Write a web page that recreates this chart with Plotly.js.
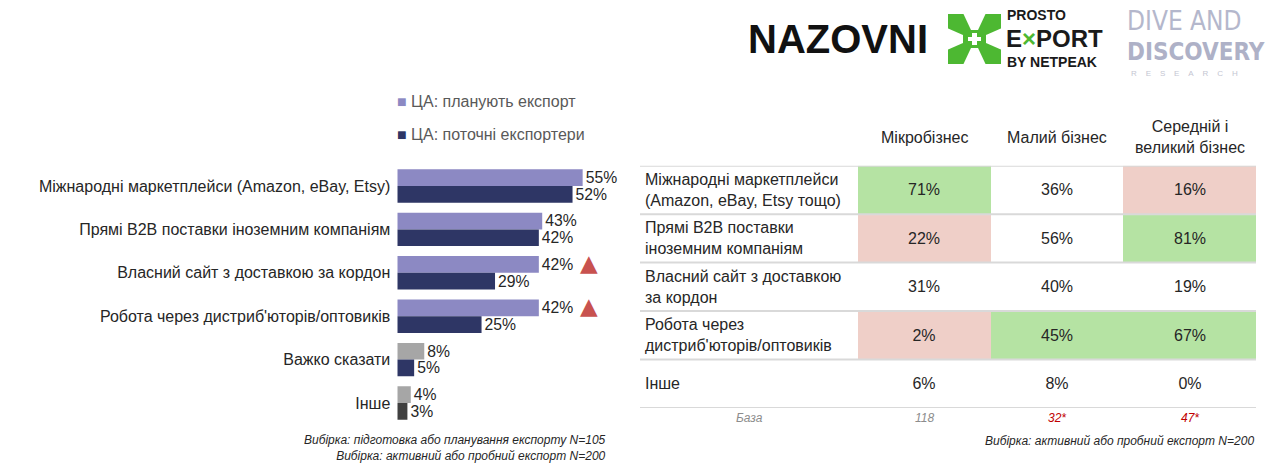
<!DOCTYPE html>
<html>
<head>
<meta charset="utf-8">
<script src="https://cdn.plot.ly/plotly-3.0.1.min.js"></script>
<style>html,body{margin:0;padding:0;background:#fff;}#chart{width:1280px;height:469px;}</style>
</head>
<body>
<div id="chart"></div>
<script>
// ---------- DATA ----------
var barCategories = [
  "Міжнародні маркетплейси (Amazon, eBay, Etsy)",
  "Прямі B2B поставки іноземним компаніям",
  "Власний сайт з доставкою за кордон",
  "Робота через дистриб'юторів/оптовиків",
  "Важко сказати",
  "Інше"
];
var planValues = [55, 43, 42, 42, 8, 4];
var currentValues = [52, 42, 29, 25, 5, 3];
var planUpFlags = [false, false, true, true, false, false];
var seriesNames = ["ЦА: планують експорт", "ЦА: поточні експортери"];
var leftNotes = ["Вибірка: підготовка або планування експорту N=105", "Вибірка: активний або пробний експорт N=200"];

var tableColumns = ["Мікробізнес", "Малий бізнес", "Середній і<br>великий бізнес"];
var tableRows = [
  "Міжнародні маркетплейси<br>(Amazon, eBay, Etsy тощо)",
  "Прямі B2B поставки<br>іноземним компаніям",
  "Власний сайт з доставкою<br>за кордон",
  "Робота через<br>дистриб'юторів/оптовиків",
  "Інше"
];
var microValues = [71, 22, 31, 2, 6];
var smallValues = [36, 56, 40, 45, 8];
var midLargeValues = [16, 81, 19, 67, 0];
// "H" = significantly higher, "L" = significantly lower, "" = no difference
var microFlags = ["H", "L", "", "L", ""];
var smallFlags = ["", "", "", "H", ""];
var midLargeFlags = ["L", "H", "", "H", ""];
var baseLabel = "База";
var baseValues = ["118", "32*", "47*"];
var baseSmall = [false, true, true];
var rightNote = "Вибірка: активний або пробний експорт N=200";

// ---------- STYLE ----------
var W = 1280, H = 469;
function px(x) { return x / W; }
function py(y) { return (H - y) / H; }
var FONT = "Liberation Sans, Arial, sans-serif";
var TXT = "#262626";
var cPlan = "#8C89C3", cCur = "#2E3665", cGrey = "#A6A6A6", cDark = "#404040";
var cGreen = "#B5E3A3", cPink = "#EFCFC8";

var planColors = planValues.map(function (v, i) { return i >= 4 ? cGrey : cPlan; });
var currentColors = currentValues.map(function (v, i) { return i === 5 ? cDark : cCur; });

var traces = [
  {
    type: "bar", orientation: "h", name: seriesNames[0],
    x: planValues, y: barCategories,
    marker: { color: planColors },
    text: planValues.map(function (v) { return v + "%"; }),
    textposition: "outside", cliponaxis: false,
    textfont: { family: FONT, size: 16, color: TXT },
    hoverinfo: "skip", xaxis: "x", yaxis: "y"
  },
  {
    type: "bar", orientation: "h", name: seriesNames[1],
    x: currentValues, y: barCategories,
    marker: { color: currentColors },
    text: currentValues.map(function (v) { return v + "%"; }),
    textposition: "outside", cliponaxis: false,
    textfont: { family: FONT, size: 16, color: TXT },
    hoverinfo: "skip", xaxis: "x", yaxis: "y"
  }
];

// table as heatmap
var cols = [microValues, smallValues, midLargeValues];
var flags = [microFlags, smallFlags, midLargeFlags];
var flagCode = { "": 0, "H": 1, "L": 2 };
var z = [], txt = [];
for (var r = 0; r < tableRows.length; r++) {
  var zr = [], tr = [];
  for (var c = 0; c < cols.length; c++) {
    zr.push(flagCode[flags[c][r]]);
    tr.push(cols[c][r] + "%");
  }
  z.push(zr); txt.push(tr);
}
traces.push({
  type: "heatmap", x: [0, 1, 2], y: tableRows.map(function (d, i) { return i; }),
  z: z, text: txt, texttemplate: "%{text}",
  textfont: { family: FONT, size: 16, color: TXT },
  zmin: 0, zmax: 2,
  colorscale: [[0, "#ffffff"], [0.5, cGreen], [1, cPink]],
  showscale: false, hoverinfo: "skip", xaxis: "x2", yaxis: "y2"
});

var annotations = [];
var shapes = [];

// legend (manual)
[cPlan, cCur].forEach(function (col, i) {
  annotations.push({
    xref: "paper", yref: "paper", x: px(395), y: py(101 + 33 * i),
    xanchor: "left", yanchor: "middle", showarrow: false,
    text: "<span style='color:" + col + "'>■</span> " + seriesNames[i],
    font: { family: FONT, size: 16, color: "#595959" }
  });
});

// significance triangles
planUpFlags.forEach(function (f, i) {
  if (!f) return;
  annotations.push({
    xref: "x", yref: "y", x: planValues[i], y: barCategories[i],
    xshift: 50, yshift: 10, showarrow: false, text: "▲",
    font: { family: "DejaVu Sans", size: 23, color: "#C8524F" }
  });
});

// left notes
annotations.push({
  xref: "paper", yref: "paper", x: px(608), y: py(447.5),
  xanchor: "right", yanchor: "middle", align: "right", showarrow: false,
  text: leftNotes.map(function (t) { return "<i>" + t + "</i>"; }).join("<br>"),
  font: { family: FONT, size: 12, color: TXT }
});

// table headers
tableColumns.forEach(function (t, j) {
  annotations.push({
    xref: "x2", yref: "paper", x: j, y: py(137),
    xanchor: "center", yanchor: "middle", showarrow: false, text: t,
    font: { family: FONT, size: 16, color: TXT }
  });
});
// table row labels
tableRows.forEach(function (t, i) {
  annotations.push({
    xref: "paper", yref: "y2", x: px(643), y: i,
    xanchor: "left", yanchor: "middle", align: "left", showarrow: false, text: t,
    font: { family: FONT, size: 16, color: TXT }
  });
});
// row separators
for (var k = 0; k <= tableRows.length; k++) {
  shapes.push({
    type: "line", xref: "paper", yref: "y2", x0: px(640), x1: px(1256), y0: k - 0.5, y1: k - 0.5,
    line: { color: "#D9D9D9", width: 2 }
  });
}
// base row
annotations.push({
  xref: "paper", yref: "paper", x: px(749), y: py(418), xanchor: "center", yanchor: "middle",
  showarrow: false, text: "<i>" + baseLabel + "</i>", font: { family: FONT, size: 12, color: "#8C8C8C" }
});
baseValues.forEach(function (t, j) {
  annotations.push({
    xref: "x2", yref: "paper", x: j, y: py(418), xanchor: "center", yanchor: "middle",
    showarrow: false, text: "<i>" + t + "</i>",
    font: { family: FONT, size: 12, color: baseSmall[j] ? "#C00000" : "#8C8C8C" }
  });
});
annotations.push({
  xref: "paper", yref: "paper", x: px(1256), y: py(441), xanchor: "right", yanchor: "middle",
  showarrow: false, text: "<i>" + rightNote + "</i>", font: { family: FONT, size: 12, color: TXT }
});

// ---------- LOGOS (decoration) ----------
annotations.push({
  xref: "paper", yref: "paper", x: px(746), y: py(39), xanchor: "left", yanchor: "middle",
  showarrow: false, text: "<b>NAZOVNI</b>", font: { family: "Liberation Sans, Arial", size: 40, color: "#111111" }
});
// PROSTO EXPORT icon
function pth(points) {
  return "M" + points.map(function (p) { return px(p[0]) + "," + py(p[1]); }).join(" L") + " Z";
}
shapes.push({ type: "path", xref: "paper", yref: "paper", path: pth([[948, 14], [1001, 14], [1001, 64], [948, 64]]), fillcolor: "#4DB832", line: { width: 0 } });
shapes.push({ type: "path", xref: "paper", yref: "paper", path: pth([[963, 13], [986, 13], [978, 30], [971, 30]]), fillcolor: "#fff", line: { width: 0 } });
shapes.push({ type: "path", xref: "paper", yref: "paper", path: pth([[963, 65], [986, 65], [978, 48], [971, 48]]), fillcolor: "#fff", line: { width: 0 } });
shapes.push({ type: "path", xref: "paper", yref: "paper", path: pth([[947, 28], [947, 50], [963, 43], [963, 35]]), fillcolor: "#fff", line: { width: 0 } });
shapes.push({ type: "path", xref: "paper", yref: "paper", path: pth([[1002, 28], [1002, 50], [986, 43], [986, 35]]), fillcolor: "#fff", line: { width: 0 } });
shapes.push({ type: "path", xref: "paper", yref: "paper", path: pth([[972, 33], [977, 33], [977, 45], [972, 45]]), fillcolor: "#fff", line: { width: 0 } });
shapes.push({ type: "path", xref: "paper", yref: "paper", path: pth([[968, 37], [981, 37], [981, 41], [968, 41]]), fillcolor: "#fff", line: { width: 0 } });
annotations.push({ xref: "paper", yref: "paper", x: px(1006), y: py(15), xanchor: "left", yanchor: "middle", showarrow: false, borderpad: 0, text: "<b>PROSTO</b>", font: { family: "Liberation Sans, Arial", size: 14, color: "#1a1a1a" } });
annotations.push({ xref: "paper", yref: "paper", x: px(1005), y: py(39), xanchor: "left", yanchor: "middle", showarrow: false, borderpad: 0, text: "<b>E<span style='color:#4DB832'>×</span>PORT</b>", font: { family: "Liberation Sans, Arial", size: 24, color: "#1a1a1a" } });
annotations.push({ xref: "paper", yref: "paper", x: px(1006), y: py(62), xanchor: "left", yanchor: "middle", showarrow: false, borderpad: 0, text: "<b>BY NETPEAK</b>", font: { family: "Liberation Sans, Arial", size: 14, color: "#1a1a1a" } });
annotations.push({ xref: "paper", yref: "paper", x: px(1126), y: py(21), xanchor: "left", yanchor: "middle", showarrow: false, borderpad: 0, text: "DIVE AND", font: { family: "DejaVu Sans Condensed, Roboto, sans-serif", size: 26, color: "#B4B7CC", weight: 300 } });
annotations.push({ xref: "paper", yref: "paper", x: px(1126), y: py(52), xanchor: "left", yanchor: "middle", showarrow: false, borderpad: 0, text: "<b>DISCOVERY</b>", font: { family: "DejaVu Sans Condensed, Roboto, sans-serif", size: 24, color: "#AEB1C7" } });
annotations.push({ xref: "paper", yref: "paper", x: px(1130), y: py(73), xanchor: "left", yanchor: "middle", showarrow: false, borderpad: 0, text: "R&nbsp;&nbsp;&nbsp;&nbsp;E&nbsp;&nbsp;&nbsp;&nbsp;S&nbsp;&nbsp;&nbsp;&nbsp;E&nbsp;&nbsp;&nbsp;&nbsp;A&nbsp;&nbsp;&nbsp;&nbsp;R&nbsp;&nbsp;&nbsp;&nbsp;C&nbsp;&nbsp;&nbsp;&nbsp;H", font: { family: "Liberation Sans, Arial", size: 8, color: "#C4C6D2" } });

var layout = {
  width: W, height: H,
  margin: { l: 0, r: 0, t: 0, b: 0 },
  paper_bgcolor: "#ffffff", plot_bgcolor: "rgba(0,0,0,0)",
  showlegend: false, hovermode: false,
  barmode: "group", bargap: 0.23, bargroupgap: 0,
  font: { family: FONT, color: TXT },
  xaxis: {
    domain: [px(397.3), px(397.3 + 60 * 3.37)], range: [0, 60],
    showgrid: false, zeroline: false, showline: false, showticklabels: false, ticks: "", fixedrange: true
  },
  yaxis: {
    domain: [py(424.7), py(164.3)],
    type: "category", categoryorder: "array", categoryarray: barCategories,
    range: [5.5, -0.5], showgrid: false, zeroline: false, showline: false, ticks: "",
    ticklabelstandoff: 6,
    tickfont: { family: FONT, size: 16, color: TXT }, fixedrange: true
  },
  xaxis2: {
    domain: [px(858), px(1256)], range: [-0.5, 2.5], anchor: "y2",
    showgrid: false, zeroline: false, showline: false, showticklabels: false, ticks: "", fixedrange: true
  },
  yaxis2: {
    domain: [py(408), py(165.7)], range: [4.5, -0.5], anchor: "x2",
    showgrid: false, zeroline: false, showline: false, showticklabels: false, ticks: "", fixedrange: true
  },
  annotations: annotations,
  shapes: shapes
};

Plotly.newPlot("chart", traces, layout, { displayModeBar: false, staticPlot: true });
</script>
</body>
</html>
